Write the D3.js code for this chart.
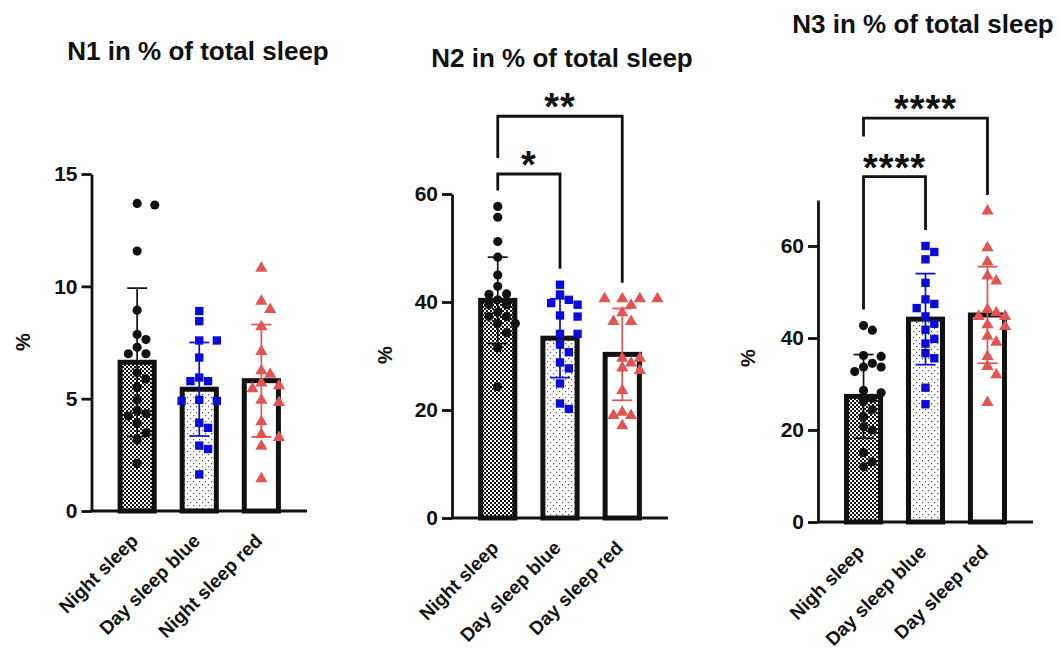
<!DOCTYPE html>
<html>
<head>
<meta charset="utf-8">
<script src="https://cdn.jsdelivr.net/npm/d3@7"></script>
<style>
  body { margin: 0; background: #fff; }
  text { font-family: "Liberation Sans", Arial, sans-serif; font-weight: bold; fill: #111; }
</style>
</head>
<body>
<div id="chart"></div>
<script>
// ---- data ----
const n1Groups = ["Night sleep", "Day sleep blue", "Night sleep red"];
const n2Groups = ["Night sleep", "Day sleep blue", "Day sleep red"];
const n3Groups = ["Nigh sleep", "Day sleep blue", "Day sleep red"];

const n1Means = [6.62, 5.42, 5.8];
const n1Sd = [3.3, 2.08, 2.5];
const n2Means = [40.3, 33.3, 30.3];
const n2Sd = [8.0, 7.3, 8.5];
const n3Means = [27.3, 44.1, 45.0];
const n3Sd = [9.1, 9.9, 10.5];

const n1Night = [13.69, 13.62, 11.57, 8.94, 7.86, 7.63, 7.29, 7.0, 7.0, 6.15, 5.88, 5.5, 4.93, 4.49, 4.34, 4.23, 3.89, 3.48, 3.15, 2.11];
const n1Blue = [8.9, 8.45, 7.59, 7.59, 6.83, 5.94, 5.78, 5.78, 4.95, 4.9, 4.9, 3.92, 3.7, 2.91, 2.76, 1.63];
const n1Red = [10.8, 9.34, 8.97, 8.2, 7.1, 6.24, 6.09, 5.7, 5.57, 5.44, 4.93, 4.83, 3.97, 3.4, 3.27, 2.88, 1.44];

const n2Night = [57.7, 55.7, 51.2, 48.3, 45.0, 42.9, 41.5, 41.4, 40.4, 39.5, 39.5, 38.1, 37.3, 37.3, 36.0, 36.0, 34.3, 31.5, 24.3];
const n2Blue = [43.2, 41.4, 40.4, 39.8, 39.5, 37.5, 37.3, 34.1, 34.1, 32.1, 30.7, 28.8, 27.7, 24.9, 21.2, 20.2];
const n2Red = [40.6, 40.6, 40.6, 40.6, 39.4, 38.0, 36.4, 36.4, 29.6, 29.6, 28.7, 27.8, 27.3, 23.6, 19.6, 19.0, 19.0, 17.1];

const n3Night = [42.7, 41.7, 36.2, 36.0, 34.5, 33.7, 33.7, 32.7, 28.6, 28.1, 26.9, 26.2, 24.4, 22.9, 20.7, 20.0, 15.1, 13.1, 12.0];
const n3Blue = [60.0, 58.7, 57.1, 52.0, 48.4, 47.4, 46.5, 44.7, 43.1, 41.8, 39.8, 38.8, 36.7, 35.6, 29.2, 25.6];
const n3Red = [67.6, 59.6, 56.5, 53.5, 52.4, 46.2, 45.5, 44.7, 44.7, 42.9, 42.5, 40.4, 39.1, 36.0, 33.8, 32.0, 26.0];

const n1Ticks = [0, 5, 10, 15];
const n2Ticks = [0, 20, 40, 60];
const n3Ticks = [0, 20, 40, 60];

// significance brackets: group indices, label, bracket level (in % units)
const n2Sig = [
  { a: 0, b: 1, label: "*", level: 63.7 },
  { a: 0, b: 2, label: "**", level: 74.4 }
];
const n3Sig = [
  { a: 0, b: 1, label: "****", level: 75.1 },
  { a: 0, b: 2, label: "****", level: 87.8 }
];

// ---- styling ----
const seriesColors = ["#111111", "#0b0bd8", "#e05452"];
const symbols = [d3.symbolCircle, d3.symbolSquare, d3.symbolTriangle];
const symbolSizes = [66, 70, 64];
const fills = ["url(#checker)", "url(#dots)", "#ffffff"];

const W = 1061, H = 652;

const svg = d3.select("#chart")
  .append("svg")
  .attr("width", W)
  .attr("height", H);

// patterns
const defs = svg.append("defs");
const checker = defs.append("pattern")
  .attr("id", "checker")
  .attr("patternUnits", "userSpaceOnUse")
  .attr("width", 4)
  .attr("height", 4);
checker.append("rect").attr("width", 4).attr("height", 4).attr("fill", "#fff");
checker.append("rect").attr("width", 2).attr("height", 2).attr("fill", "#111");
checker.append("rect").attr("x", 2).attr("y", 2).attr("width", 2).attr("height", 2).attr("fill", "#111");

const dots = defs.append("pattern")
  .attr("id", "dots")
  .attr("patternUnits", "userSpaceOnUse")
  .attr("width", 6)
  .attr("height", 6);
dots.append("rect").attr("width", 6).attr("height", 6).attr("fill", "#fff");
dots.append("rect").attr("x", 1).attr("y", 1).attr("width", 1.2).attr("height", 1.2).attr("fill", "#555");
dots.append("rect").attr("x", 4).attr("y", 4).attr("width", 1.2).attr("height", 1.2).attr("fill", "#555");

// panel layout
const panels = [
  {
    title: "N1 in % of total sleep", groups: n1Groups, means: n1Means, sds: n1Sd,
    points: [n1Night, n1Blue, n1Red], ticks: n1Ticks, yMax: 15, sig: [],
    left: 91.5, right: 307, bottom: 511, top: 174,
    titleX: 198, titleY: 60, pctX: 23, pctY: 342
  },
  {
    title: "N2 in % of total sleep", groups: n2Groups, means: n2Means, sds: n2Sd,
    points: [n2Night, n2Blue, n2Red], ticks: n2Ticks, yMax: 60, sig: n2Sig,
    left: 452, right: 668, bottom: 518, top: 194,
    titleX: 562, titleY: 67, pctX: 385, pctY: 355
  },
  {
    title: "N3 in % of total sleep", groups: n3Groups, means: n3Means, sds: n3Sd,
    points: [n3Night, n3Blue, n3Red], ticks: n3Ticks, yMax: 70, sig: n3Sig,
    left: 818, right: 1033, bottom: 522, top: 200,
    titleX: 923, titleY: 33, pctX: 748, pctY: 358
  }
];

// simple beeswarm: spread points sideways so they don't overlap
function swarm(values, y, cx, step) {
  const placed = [];
  const order = values.map((v, i) => i).sort((a, b) => values[b] - values[a]);
  order.forEach(i => {
    const py = y(values[i]);
    for (let k = 0; k < 40; k++) {
      const off = k === 0 ? 0 : (k % 2 ? 1 : -1) * Math.ceil(k / 2) * step;
      const ok = placed.every(p => Math.hypot(p.x - (cx + off), p.y - py) >= step + 0.5);
      if (ok) { placed.push({ x: cx + off, y: py, v: values[i] }); break; }
    }
  });
  return placed;
}

panels.forEach(drawPanel);

function drawPanel(p) {
  const g = svg.append("g");

  const y = d3.scaleLinear().domain([0, p.yMax]).range([p.bottom, p.top]);
  const x = d3.scaleBand()
    .domain(p.groups)
    .range([p.left, p.right])
    .paddingInner(0.37)
    .paddingOuter(0.42);

  // title
  g.append("text")
    .attr("x", p.titleX)
    .attr("y", p.titleY)
    .attr("text-anchor", "middle")
    .style("font-size", "26px")
    .text(p.title);

  // y label
  g.append("text")
    .attr("transform", `translate(${p.pctX},${p.pctY}) rotate(-90)`)
    .attr("text-anchor", "middle")
    .attr("dy", "0.35em")
    .style("font-size", "20px")
    .text("%");

  // bars
  g.selectAll("rect.bar")
    .data(p.groups)
    .join("rect")
    .attr("class", "bar")
    .attr("x", d => x(d) + 2.5)
    .attr("width", x.bandwidth() - 5)
    .attr("y", (d, i) => y(p.means[i]))
    .attr("height", (d, i) => p.bottom - y(p.means[i]))
    .attr("fill", (d, i) => fills[i])
    .attr("stroke", "#111")
    .attr("stroke-width", 5);

  // error bars (mean +/- SD)
  p.groups.forEach((grp, i) => {
    const cx = x(grp) + x.bandwidth() / 2;
    const eb = g.append("g")
      .attr("stroke", seriesColors[i])
      .attr("stroke-width", 1.7);
    const lo = y(p.means[i] - p.sds[i]);
    const hi = y(p.means[i] + p.sds[i]);
    eb.append("line").attr("x1", cx).attr("x2", cx).attr("y1", lo).attr("y2", hi);
    eb.append("line").attr("x1", cx - 10).attr("x2", cx + 10).attr("y1", lo).attr("y2", lo);
    eb.append("line").attr("x1", cx - 10).attr("x2", cx + 10).attr("y1", hi).attr("y2", hi);
  });

  // individual points
  p.groups.forEach((grp, i) => {
    const cx = x(grp) + x.bandwidth() / 2;
    const pts = swarm(p.points[i], y, cx, 8.8);
    g.append("g")
      .selectAll("path")
      .data(pts)
      .join("path")
      .attr("transform", d => `translate(${d.x},${d.y})`)
      .attr("d", d3.symbol().type(symbols[i]).size(symbolSizes[i]))
      .attr("fill", seriesColors[i]);
  });

  // y axis
  const yAxis = g.append("g")
    .attr("transform", `translate(${p.left},0)`)
    .call(d3.axisLeft(y).tickValues(p.ticks).tickSize(10).tickPadding(4).tickSizeOuter(0));
  yAxis.select(".domain").attr("stroke", "#111").attr("stroke-width", 2.8);
  yAxis.selectAll(".tick line").attr("stroke", "#111").attr("stroke-width", 2.8);
  yAxis.selectAll(".tick text")
    .style("font-size", "21px")
    .style("font-family", "'Liberation Sans', Arial, sans-serif")
    .style("font-weight", "bold")
    .attr("fill", "#111");

  // x axis line
  g.append("line")
    .attr("x1", p.left - 1)
    .attr("x2", p.right)
    .attr("y1", p.bottom)
    .attr("y2", p.bottom)
    .attr("stroke", "#111")
    .attr("stroke-width", 2.8);

  // rotated category labels
  g.selectAll("text.cat")
    .data(p.groups)
    .join("text")
    .attr("class", "cat")
    .attr("text-anchor", "end")
    .attr("transform", d => `translate(${x(d) + x.bandwidth() / 2 + 2},${p.bottom + 31}) rotate(-45)`)
    .style("font-size", "19px")
    .text(d => d);

  // significance brackets
  const occupied = [];
  const sorted = p.sig.slice().sort((a, b) => a.level - b.level);
  sorted.forEach(s => {
    const xa = x(p.groups[s.a]) + x.bandwidth() / 2;
    const xb = x(p.groups[s.b]) + x.bandwidth() / 2;
    const by = y(s.level);
    const legEnd = (gi, xx) => {
      let end = y(d3.max(p.points[gi])) - 16;
      occupied.forEach(o => {
        if (xx >= o.x0 - 6 && xx <= o.x1 + 6) end = Math.min(end, o.top - 16);
      });
      return end;
    };
    const ya = legEnd(s.a, xa);
    const yb = legEnd(s.b, xb);
    g.append("path")
      .attr("d", `M${xa},${ya}V${by}H${xb}V${yb}`)
      .attr("fill", "none")
      .attr("stroke", "#111")
      .attr("stroke-width", 2.8);
    const lbl = g.append("text")
      .attr("x", (xa + xb) / 2)
      .attr("y", by + 4)
      .attr("text-anchor", "middle")
      .style("font-size", "38px")
      .style("letter-spacing", "1px")
      .text(s.label);
    const bb = lbl.node().getBBox();
    occupied.push({ x0: xa, x1: xb, top: by });
    occupied.push({ x0: bb.x, x1: bb.x + bb.width, top: bb.y + 6 });
  });
}
</script>
</body>
</html>
